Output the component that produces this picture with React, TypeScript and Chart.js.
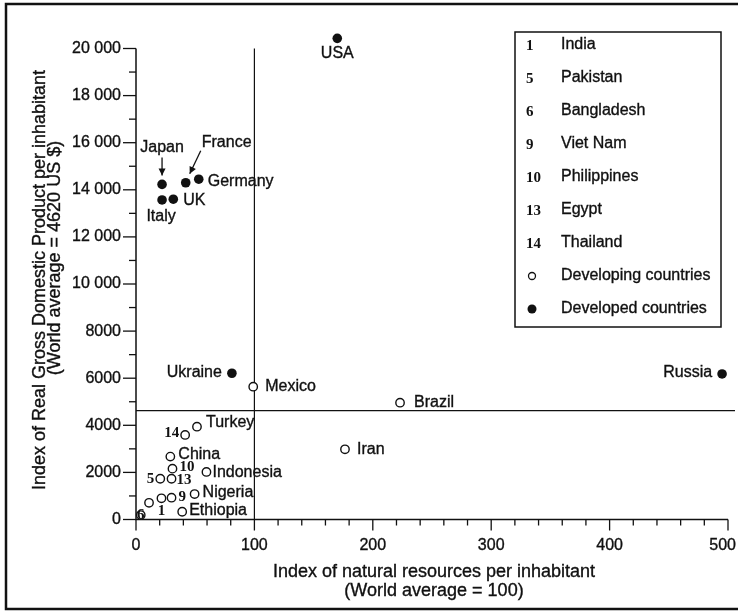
import React, { useEffect, useRef } from "react";
import { Chart, registerables } from "chart.js";

Chart.register(...registerables);

// ---- data ----
const developedNames = ["USA", "Japan", "Italy", "UK", "France", "Germany", "Ukraine", "Russia"];
const developedResources = [170, 22, 22, 31.5, 42, 53, 81, 495];
const developedGDP = [20430, 14230, 13570, 13600, 14300, 14450, 6210, 6180];

const developingNames = ["Mexico", "Brazil", "Iran", "Turkey", "14", "China", "10", "Indonesia", "5", "13", "", "1", "9", "Nigeria", "Ethiopia", "6"];
const developingResources = [99, 223, 176.5, 51.5, 41.5, 29, 30.8, 59.5, 20.5, 30, 11, 21.5, 30, 49.5, 39, 4];
const developingGDP = [5640, 4960, 2980, 3940, 3590, 2670, 2160, 2020, 1730, 1730, 710, 900, 925, 1080, 330, 190];

const worldAvgGDP = 4620;
const worldAvgResources = 100;

const xTicks = [0, 100, 200, 300, 400, 500];
const xTickLabels = ["0", "100", "200", "300", "400", "500"];
const yTicks = [0, 2000, 4000, 6000, 8000, 10000, 12000, 14000, 16000, 18000, 20000];
const yTickLabels = ["0", "2000", "4000", "6000", "8000", "10 000", "12 000", "14 000", "16 000", "18 000", "20 000"];

const legendCodes = ["1", "5", "6", "9", "10", "13", "14"];
const legendCountries = ["India", "Pakistan", "Bangladesh", "Viet Nam", "Philippines", "Egypt", "Thailand"];

// label placement: [dx, dy, align]
const labelPlace: Record<string, [number, number, CanvasTextAlign]> = {
  USA: [0, 15, "center"],
  Japan: [0, -37, "center"],
  Italy: [-1, 17, "center"],
  UK: [10, 1, "left"],
  France: [16, -40, "left"],
  Germany: [9, 2, "left"],
  Ukraine: [-10, -1, "right"],
  Russia: [-10, -1, "right"],
  Mexico: [12, 0, "left"],
  Brazil: [14, 0, "left"],
  Iran: [12, 0, "left"],
  Turkey: [9, -4, "left"],
  "14": [-6, -2, "right"],
  China: [8, -2, "left"],
  "10": [7, -2, "left"],
  Indonesia: [6, 1, "left"],
  "5": [-6, 0, "right"],
  "13": [5, 1, "left"],
  "9": [7, -1, "left"],
  Nigeria: [8, -1, "left"],
  Ethiopia: [7, -1, "left"],
  "1": [0, 13, "center"],
  "6": [0, 0, "center"],
};
const arrows: Record<string, [number, number, number, number]> = {
  Japan: [0, -27, 0, -9],
  France: [15, -32, 4, -9],
};

const SANS = '"Liberation Sans", Arial, sans-serif';
const SERIF = '"Liberation Serif", "Times New Roman", serif';
const INK = "#111";

function txt(ctx: CanvasRenderingContext2D, s: string, x: number, y: number) {
  ctx.fillText(s, x, y);
  ctx.save();
  ctx.lineWidth = 0.35;
  ctx.strokeText(s, x, y);
  ctx.restore();
}

function drawArrow(ctx: CanvasRenderingContext2D, x1: number, y1: number, x2: number, y2: number) {
  ctx.beginPath();
  ctx.moveTo(x1, y1);
  ctx.lineTo(x2, y2);
  ctx.stroke();
  const a = Math.atan2(y2 - y1, x2 - x1);
  const L = 7, W = 3.5;
  ctx.beginPath();
  ctx.moveTo(x2, y2);
  ctx.lineTo(x2 - L * Math.cos(a) + W * Math.sin(a), y2 - L * Math.sin(a) - W * Math.cos(a));
  ctx.lineTo(x2 - L * Math.cos(a) - W * Math.sin(a), y2 - L * Math.sin(a) + W * Math.cos(a));
  ctx.closePath();
  ctx.fill();
}

const decor = {
  id: "decor",
  beforeDatasetsDraw(chart: any) {
    const { ctx, scales } = chart;
    const x = scales.x, y = scales.y;
    const x0 = x.getPixelForValue(0), x1 = x.getPixelForValue(500);
    const y0 = y.getPixelForValue(0), y1 = y.getPixelForValue(20000);
    ctx.save();
    ctx.strokeStyle = INK;
    ctx.fillStyle = INK;

    // frame
    ctx.lineWidth = 2.5;
    ctx.beginPath();
    ctx.moveTo(738, 4);
    ctx.lineTo(6, 4);
    ctx.lineTo(6, 609);
    ctx.lineTo(738, 609);
    ctx.stroke();

    // reference lines
    ctx.lineWidth = 1.2;
    const ya = y.getPixelForValue(worldAvgGDP);
    ctx.beginPath();
    ctx.moveTo(x0, ya);
    ctx.lineTo(x1 + 7, ya);
    ctx.stroke();
    const xa = x.getPixelForValue(worldAvgResources);
    ctx.beginPath();
    ctx.moveTo(xa, y1);
    ctx.lineTo(xa, y0);
    ctx.stroke();

    // axes
    ctx.lineWidth = 1.5;
    ctx.beginPath();
    ctx.moveTo(x0, y1);
    ctx.lineTo(x0, y0);
    ctx.lineTo(x1, y0);
    ctx.stroke();

    // x ticks
    ctx.lineWidth = 1.3;
    for (let v = 0; v <= 500; v += 20) {
      const px = x.getPixelForValue(v);
      const major = v % 100 === 0;
      ctx.beginPath();
      ctx.moveTo(px, y0);
      ctx.lineTo(px, y0 + (major ? 11 : 6));
      ctx.stroke();
    }
    // y ticks
    for (let v = 0; v <= 20000; v += 1000) {
      const py = y.getPixelForValue(v);
      const major = v % 2000 === 0;
      ctx.beginPath();
      ctx.moveTo(x0, py);
      ctx.lineTo(x0 - (major ? 13 : 7), py);
      ctx.stroke();
    }

    ctx.font = `16px ${SANS}`;
    ctx.textBaseline = "middle";
    ctx.textAlign = "center";
    xTicks.forEach((v, i) => {
      const w = ctx.measureText(xTickLabels[i]).width;
      const cx = Math.min(x.getPixelForValue(v), 736 - w / 2);
      txt(ctx, xTickLabels[i], cx, y0 + 26);
    });
    ctx.textAlign = "right";
    yTicks.forEach((v, i) => txt(ctx, yTickLabels[i], x0 - 15, y.getPixelForValue(v)));

    // axis titles
    ctx.textAlign = "center";
    ctx.font = `18px ${SANS}`;
    const xc = (x0 + x1) / 2 + 2;
    txt(ctx, "Index of natural resources per inhabitant", xc, 572);
    txt(ctx, "(World average = 100)", xc, 591);

    ctx.save();
    ctx.rotate(-Math.PI / 2);
    ctx.font = `18px ${SANS}`;
    txt(ctx, "Index of Real Gross Domestic Product per inhabitant", -280, 40);
    txt(ctx, "(World average = 4620 US $)", -258, 55);
    ctx.restore();

    // legend
    ctx.lineWidth = 1.5;
    ctx.strokeRect(515, 32, 206, 295);
    const rowY = (i: number) => 45 + i * 33;
    legendCodes.forEach((c, i) => {
      ctx.textAlign = "left";
      ctx.font = `bold 15px ${SERIF}`;
      ctx.fillText(c, 526, rowY(i) + 1);
      ctx.font = `16px ${SANS}`;
      txt(ctx, legendCountries[i], 561, rowY(i));
    });
    const r7 = rowY(7), r8 = rowY(8);
    ctx.beginPath();
    ctx.arc(532, r7, 3.5, 0, Math.PI * 2);
    ctx.fillStyle = "#fff";
    ctx.fill();
    ctx.lineWidth = 1.3;
    ctx.stroke();
    ctx.fillStyle = INK;
    ctx.beginPath();
    ctx.arc(532, r8, 4.5, 0, Math.PI * 2);
    ctx.fill();
    ctx.font = `16px ${SANS}`;
    txt(ctx, "Developing countries", 561, r7);
    txt(ctx, "Developed countries", 561, r8);

    ctx.restore();
  },
  afterDatasetsDraw(chart: any) {
    const { ctx } = chart;
    ctx.save();
    ctx.fillStyle = INK;
    ctx.strokeStyle = INK;
    ctx.textBaseline = "middle";
    chart.data.datasets.forEach((ds: any, di: number) => {
      const meta = chart.getDatasetMeta(di);
      meta.data.forEach((pt: any, i: number) => {
        const name = ds.names[i];
        if (!name) return;
        const place = labelPlace[name] || [8, 0, "left"];
        const isNum = /^\d+$/.test(name);
        ctx.font = isNum ? `bold 15px ${SERIF}` : `16px ${SANS}`;
        ctx.textAlign = place[2];
        if (isNum) ctx.fillText(name, pt.x + place[0], pt.y + place[1]);
        else txt(ctx, name, pt.x + place[0], pt.y + place[1]);
        const ar = arrows[name];
        if (ar) {
          ctx.lineWidth = 1.3;
          drawArrow(ctx, pt.x + ar[0], pt.y + ar[1], pt.x + ar[2], pt.y + ar[3]);
        }
      });
    });
    ctx.restore();
  },
};

export default function App() {
  const ref = useRef<HTMLCanvasElement | null>(null);
  useEffect(() => {
    document.body.style.margin = "0";
    const canvas = ref.current!;
    const chart = new Chart(canvas, {
      type: "scatter",
      data: {
        datasets: [
          {
            label: "Developing countries",
            names: developingNames,
            data: developingResources.map((v, i) => ({ x: v, y: developingGDP[i] })),
            backgroundColor: "#fff",
            borderColor: INK,
            borderWidth: 1.4,
            pointRadius: 4.2,
            clip: false,
          } as any,
          {
            label: "Developed countries",
            names: developedNames,
            data: developedResources.map((v, i) => ({ x: v, y: developedGDP[i] })),
            backgroundColor: INK,
            borderColor: INK,
            borderWidth: 0,
            pointRadius: 4.8,
            clip: false,
          } as any,
        ],
      },
      options: {
        animation: false,
        responsive: false,
        devicePixelRatio: 1,
        layout: { padding: { left: 136, right: 10, top: 24.95, bottom: 94.5 }, autoPadding: false },
        scales: {
          x: { type: "linear", min: 0, max: 500, display: false },
          y: { type: "linear", min: 0, max: 21000, display: false },
        },
        plugins: { legend: { display: false }, tooltip: { enabled: false } },
        events: [],
      },
      plugins: [decor],
    });
    return () => chart.destroy();
  }, []);
  return (
    <div style={{ width: 738, height: 614, background: "#fff" }}>
      <canvas ref={ref} width={738} height={614} style={{ display: "block" }} />
    </div>
  );
}
